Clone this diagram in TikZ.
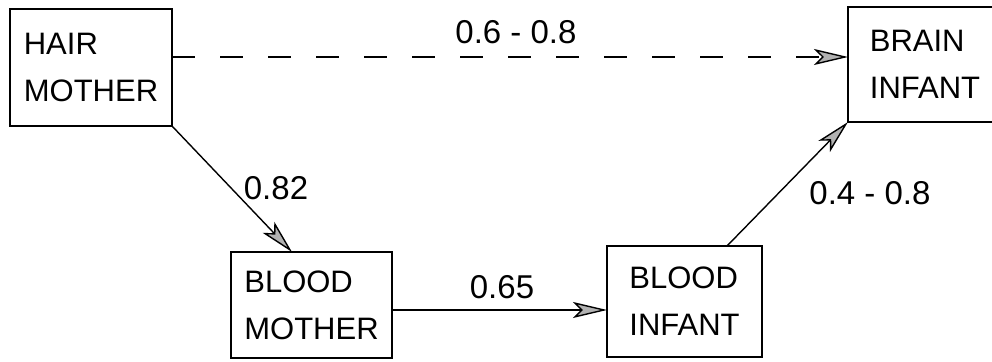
\documentclass[tikz,border=0pt]{standalone}
\usepackage{fontspec}
\setmainfont{Liberation Sans}
\usetikzlibrary{arrows.meta}
\begin{document}
\begin{tikzpicture}[x=0.5pt,y=-0.5pt,
  box/.style={draw,line width=0.7pt,inner sep=0pt,outer sep=0pt,align=left,
    font=\fontsize{15.5}{23.5}\selectfont},
  lbl/.style={inner sep=0pt,font=\fontsize{16.5}{18}\selectfont},
  conn/.style={line width=0.7pt,-{Stealth[length=17pt,width=8pt,inset=4pt,fill=gray!60,line width=0.7pt]}},
  dashconn/.style={conn,dash pattern=on 11.5pt off 12.5pt}]
\clip (0,0) rectangle (992,362);
\fill[white] (0,0) rectangle (992,362);
\node[box,minimum width=81pt,minimum height=58.5pt] (hm) at (91,67.5) {HAIR\\MOTHER};
\node[box,minimum width=77pt,minimum height=57.5pt] (bi) at (925,64.5) {BRAIN\\INFANT};
\node[box,minimum width=80.5pt,minimum height=53pt] (bm) at (311.5,305) {BLOOD\\MOTHER};
\node[box,minimum width=77.5pt,minimum height=55.5pt] (bin) at (684.5,301.5) {BLOOD\\INFANT};
\draw[dashconn] ([yshift=5.25pt]hm.east) -- ([yshift=3.75pt]bi.west);
\draw[conn] (hm.south east) -- ([xshift=-9.75pt]bm.north);
\draw[conn] ([yshift=-2.5pt]bm.east) -- ([yshift=-4.25pt]bin.west);
\draw[conn] ([xshift=21.25pt]bin.north) -- (bi.south west);
\node[lbl] (l1) at (516,32) {0.6 - 0.8};
\node[lbl] (l2) at (276,188) {0.82};
\node[lbl] (l3) at (502,287) {0.65};
\node[lbl] (l4) at (870,193) {0.4 - 0.8};
\end{tikzpicture}
\end{document}
